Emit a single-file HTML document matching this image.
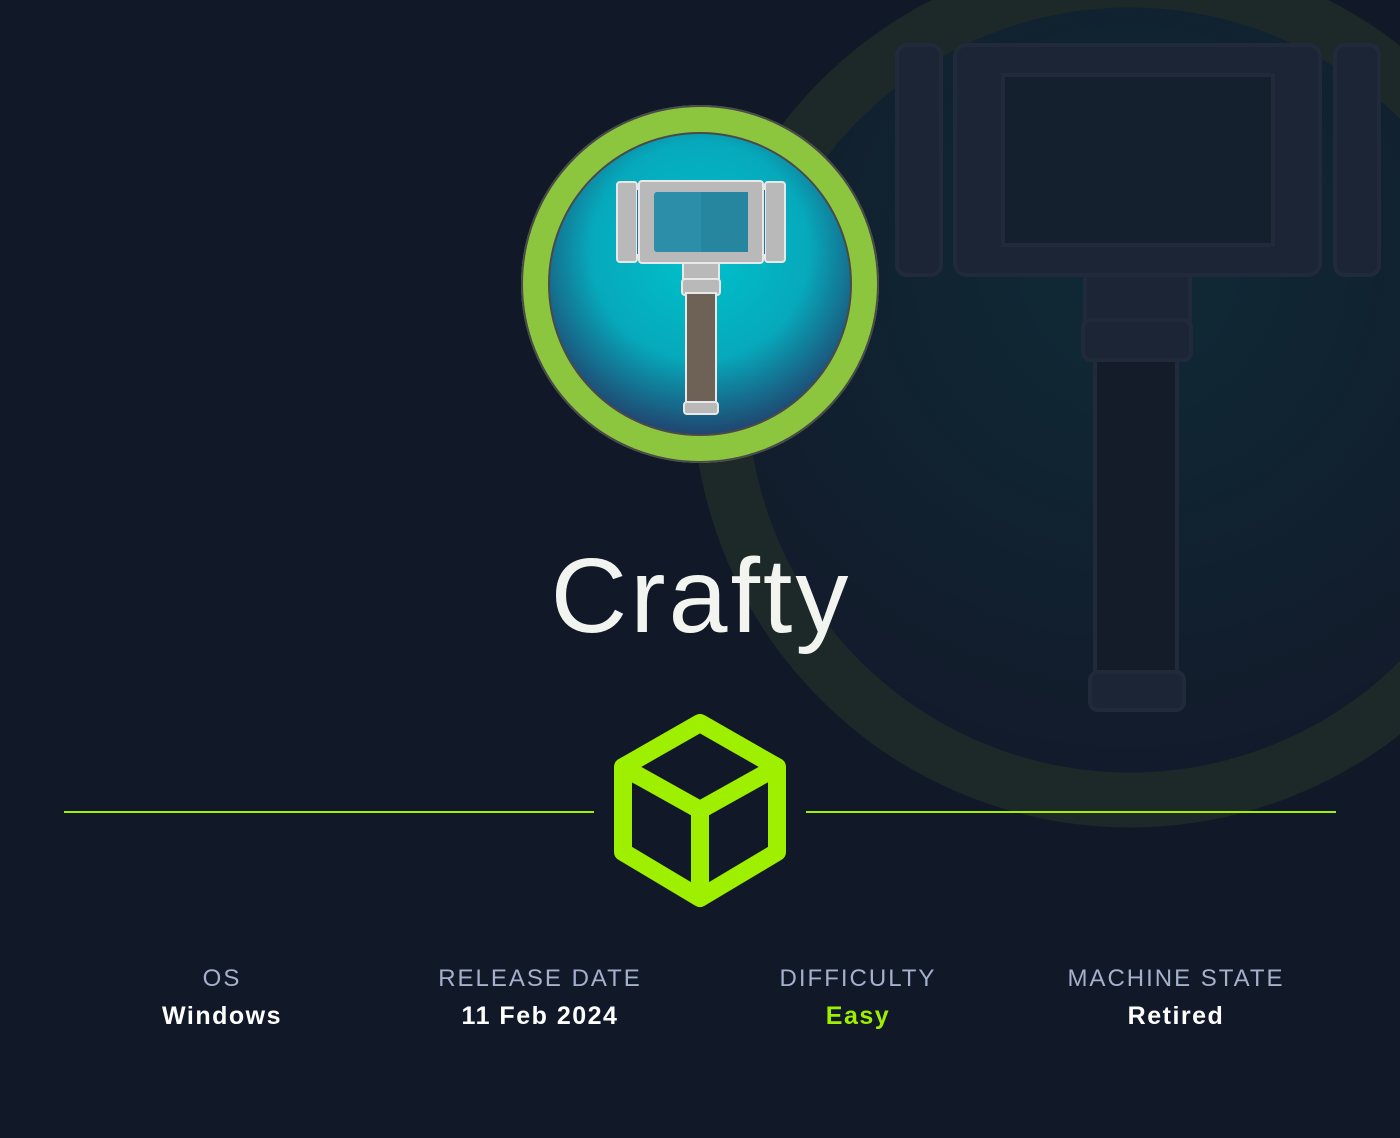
<!DOCTYPE html>
<html><head><meta charset="utf-8"><style>
html,body{margin:0;padding:0;background:#111827;}
body{width:1400px;height:1138px;overflow:hidden;position:relative;font-family:"Liberation Sans",sans-serif;}
.lbl{position:absolute;width:320px;text-align:center;font-size:24px;letter-spacing:2px;color:#a4b1cd;}
.val{position:absolute;width:320px;text-align:center;font-size:25px;font-weight:bold;letter-spacing:1.5px;color:#fff;}
</style></head><body>
<svg width="1400" height="1138" style="position:absolute;left:0;top:0">
<defs>
<radialGradient id="bg" cx="0.5" cy="0.35" r="0.6"><stop offset="0" stop-color="#0f2a36"/><stop offset="1" stop-color="#121b2b"/></radialGradient>
<radialGradient id="ig" cx="0.5" cy="0.4" r="0.6"><stop offset="0" stop-color="#00c2cc"/><stop offset="0.55" stop-color="#06a9bb"/><stop offset="1" stop-color="#253261"/></radialGradient>
</defs>
<rect width="1400" height="1138" fill="#111827"/>
<circle cx="1130" cy="390" r="410" fill="url(#bg)" stroke="#1d2829" stroke-width="55"/>
<g fill="#1b2535" stroke="#202a3b" stroke-width="4">
<rect x="897" y="45" width="44" height="230" rx="10"/>
<rect x="1335" y="45" width="44" height="230" rx="10"/>
<rect x="955" y="45" width="365" height="230" rx="12"/>
<rect x="1003" y="75" width="270" height="170" fill="#14202e"/>
<rect x="1085" y="275" width="105" height="55"/>
<rect x="1083" y="320" width="108" height="40" rx="8"/>
<rect x="1095" y="360" width="82" height="320" fill="#141c29"/>
<rect x="1090" y="672" width="94" height="38" rx="8"/>
</g>
<circle cx="700" cy="284" r="165" fill="url(#ig)" stroke="#8cc63f" stroke-width="28"/>
<circle cx="700" cy="284" r="178" fill="none" stroke="#4a4a4a" stroke-width="2"/>
<circle cx="700" cy="284" r="151" fill="none" stroke="#4a4a4a" stroke-width="2"/>
<g stroke="#e8e8e8" stroke-width="2">
<rect x="617" y="182" width="20" height="80" rx="3" fill="#b9b9b9"/>
<rect x="765" y="182" width="20" height="80" rx="3" fill="#b9b9b9"/>
<rect x="637" y="190" width="10" height="64" fill="#1f7a97" stroke="none"/>
<rect x="755" y="190" width="10" height="64" fill="#1f7a97" stroke="none"/>
<rect x="639" y="181" width="124" height="82" rx="3" fill="#b9b9b9"/>
<rect x="683" y="263" width="36" height="16" fill="#b9b9b9"/>
<rect x="682" y="279" width="38" height="16" rx="3" fill="#b9b9b9"/>
<rect x="686" y="293" width="30" height="110" fill="#6e6256"/>
<rect x="684" y="402" width="34" height="12" rx="3" fill="#b9b9b9"/>
</g>
<rect x="654" y="192" width="94" height="60" rx="3" fill="#2d8ea9"/>
<rect x="701" y="192" width="47" height="60" fill="#27869f"/>
<line x1="64" y1="812" x2="594" y2="812" stroke="#9fef00" stroke-width="2"/>
<line x1="806" y1="812" x2="1336" y2="812" stroke="#9fef00" stroke-width="2"/>
<g fill="none" stroke="#9fef00" stroke-width="18" stroke-linejoin="round">
<polygon points="700,723 777,767 777,852 700,898 623,852 623,767"/>
<polyline points="623,767 700,810 777,767"/>
<line x1="700" y1="810" x2="700" y2="898"/>
</g>
<text x="701" y="632" text-anchor="middle" font-family="Liberation Sans, sans-serif" font-size="106" fill="#f2f4f0" letter-spacing="3">Crafty</text>
</svg>
<div class="lbl" style="left:62px;top:965px">OS</div>
<div class="val" style="left:62px;top:1002px">Windows</div>
<div class="lbl" style="left:380px;top:965px">RELEASE DATE</div>
<div class="val" style="left:380px;top:1002px">11 Feb 2024</div>
<div class="lbl" style="left:698px;top:965px">DIFFICULTY</div>
<div class="val" style="left:698px;top:1002px;color:#9fef00">Easy</div>
<div class="lbl" style="left:1016px;top:965px">MACHINE STATE</div>
<div class="val" style="left:1016px;top:1002px">Retired</div>
</body></html>
